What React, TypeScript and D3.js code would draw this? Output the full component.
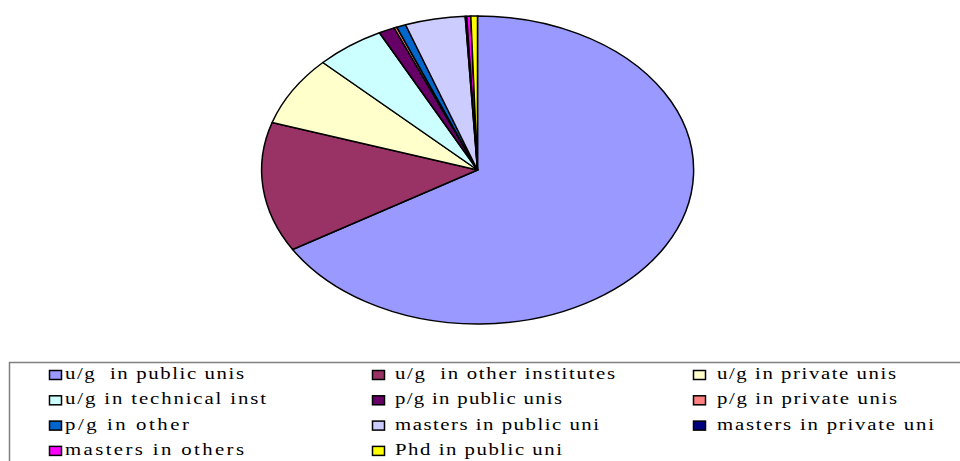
import React from "react";
import * as d3 from "d3";

const categories = [
  "u/g  in public unis",
  "u/g  in other institutes",
  "u/g in private unis",
  "u/g in technical inst",
  "p/g in public unis",
  "p/g in private unis",
  "p/g in other",
  "masters in public uni",
  "masters in private uni",
  "masters in others",
  "Phd in public uni",
];
const values = [66.3, 13.6, 7.3, 5.2, 1.2, 0.2, 0.7, 4.5, 0.1, 0.3, 0.5];
const colors = [
  "#9999FF",
  "#993366",
  "#FFFFCC",
  "#CCFFFF",
  "#660066",
  "#FF8080",
  "#0066CC",
  "#CCCCFF",
  "#000080",
  "#FF00FF",
  "#FFFF00",
];
const labelWidths = [179, 220, 179, 201, 167, 180, 124, 204, 217, 179, 167];

export default function App() {
  const cx = 477.5;
  const cy = 170;
  const rx = 216;
  const ry = 154;
  const pie = d3.pie<number>().sort(null).value((d) => d).startAngle(0).endAngle(2 * Math.PI);
  const arcs = pie(values);
  const arc = d3.arc<d3.PieArcDatum<number>>().innerRadius(0).outerRadius(1);

  const colX = [49, 372, 693];
  const textX = [65, 395, 717];
  const rowY = [379, 404.3, 429.6, 454.9];
  const sx = 1.3;

  return (
    <div style={{ position: "absolute", left: 0, top: 0 }}>
      <svg width={960} height={461} style={{ display: "block" }}>
        <rect x={0} y={0} width={960} height={461} fill="#ffffff" />
        <g transform={`translate(${cx},${cy}) scale(${rx},${ry})`}>
          {arcs.map((a, i) => (
            <path
              key={i}
              d={arc(a) || ""}
              fill={colors[i]}
              stroke="#000"
              strokeWidth={1.5}
              vectorEffect="non-scaling-stroke"
              strokeLinejoin="round"
            />
          ))}
        </g>
        <rect x={9.5} y={362.5} width={1000} height={200} fill="none" stroke="#808080" strokeWidth={1.5} />
        {categories.map((c, i) => {
          const col = i % 3;
          const row = Math.floor(i / 3);
          return (
            <g key={c}>
              <rect
                x={colX[col] + 0.5}
                y={rowY[row] - 8.5}
                width={12}
                height={9}
                fill={colors[i]}
                stroke="#000"
                strokeWidth={1.5}
              />
              <g transform={`translate(${textX[col]},${rowY[row]}) scale(${sx},1)`}>
                <text
                  x={0}
                  y={0}
                  fontFamily="Liberation Serif, serif"
                  fontSize={16}
                  fill="#000"
                  textLength={labelWidths[i] / sx}
                  lengthAdjust="spacing"
                  style={{ whiteSpace: "pre" }}
                >
                  {c}
                </text>
              </g>
            </g>
          );
        })}
      </svg>
    </div>
  );
}
